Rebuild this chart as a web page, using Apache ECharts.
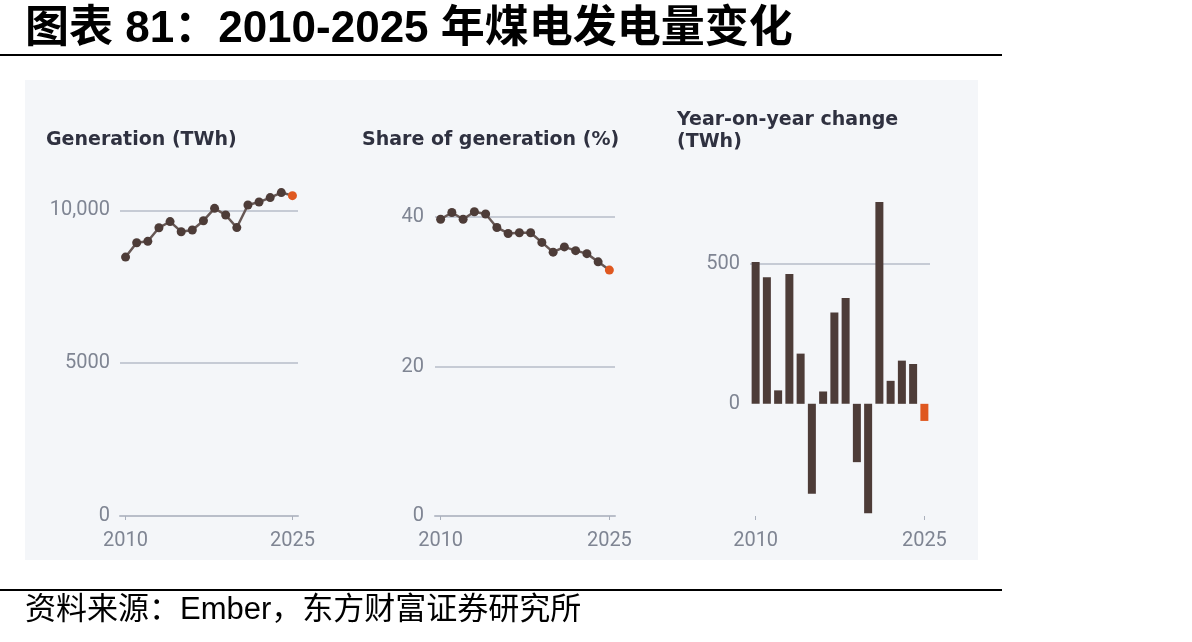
<!DOCTYPE html>
<html>
<head>
<meta charset="utf-8">
<script src="https://cdn.jsdelivr.net/npm/echarts@6/dist/echarts.min.js"></script>
<style>
  html, body { margin: 0; padding: 0; background: #fff; }
  #coalchart { width: 1192px; height: 642px; }
</style>
</head>
<body>
<div id="coalchart"></div>
<script>
  // 数据
  var years = ['2010', '2011', '2012', '2013', '2014', '2015', '2016', '2017',
    '2018', '2019', '2020', '2021', '2022', '2023', '2024', '2025']
  var generation = [8470, 8940, 8985, 9430, 9630, 9300, 9355, 9660,
    10065, 9845, 9435, 10175, 10270, 10415, 10580, 10480]
  var share = [39.7, 40.6, 39.7, 40.7, 40.4, 38.6, 37.8, 37.9,
    37.9, 36.6, 35.3, 36.0, 35.5, 35.1, 34.0, 32.9]
  var yoyChange = [506, 451, 48, 463, 179, -321, 44, 326,
    377, -208, -390, 720, 82, 154, 142, -61]

  var brown = '#4d3c38'
  var orange = '#df5820'
  var labelColor = '#7f8593'
  var gridColor = '#c6cbd5'
  var font = 'Roboto'
  var headFont = '"DejaVu Sans"'
  var lastIdx = years.length - 1

  // 最后一年用橙色标出
  function markLast(arr) {
    return arr.map(function (v, i) {
      return i === lastIdx ? { value: v, itemStyle: { color: orange } } : v
    })
  }
  function firstLast(i) { return i === 0 || i === lastIdx }

  function xAxisFor(gridIndex, showLine) {
    return {
      type: 'category',
      gridIndex: gridIndex,
      data: years,
      boundaryGap: true,
      axisLine: { show: showLine, onZero: false, lineStyle: { color: '#b9bec9', width: 2 } },
      axisTick: { show: true, interval: firstLast, alignWithLabel: true, length: 4,
        lineStyle: { color: '#aab0bc', width: 1 } },
      axisLabel: { interval: firstLast, color: labelColor, fontSize: 20, fontFamily: font, margin: 15 }
    }
  }

  var chart = echarts.init(document.getElementById('coalchart'))
  chart.setOption({
    animation: false,
    backgroundColor: '#ffffff',
    graphic: [
      { type: 'rect', shape: { x: 25, y: 80, width: 953, height: 480 }, style: { fill: '#f4f6f9' }, z: -10 },
      { type: 'line', shape: { x1: 0, y1: 55, x2: 1002, y2: 55 }, style: { stroke: '#000', lineWidth: 2 } },
      { type: 'line', shape: { x1: 0, y1: 590, x2: 1002, y2: 590 }, style: { stroke: '#000', lineWidth: 2 } }
    ],
    title: [
      { text: '图表 81：2010-2025 年煤电发电量变化', left: 25, top: 8, padding: 0,
        textStyle: { fontSize: 44, fontWeight: 'bold', color: '#000',
          fontFamily: '"Liberation Sans", "Noto Sans CJK SC"' } },
      { text: '资料来源：Ember，东方财富证券研究所', left: 25, top: 595, padding: 0,
        textStyle: { fontSize: 31, fontWeight: 'normal', color: '#000',
          fontFamily: '"Liberation Sans", "Noto Sans CJK SC"' } },
      { text: 'Generation (TWh)', left: 46, top: 131, padding: 0,
        textStyle: { fontSize: 19, fontWeight: 'bold', color: '#2f3140', fontFamily: headFont } },
      { text: 'Share of generation (%)', left: 362, top: 131, padding: 0,
        textStyle: { fontSize: 19, fontWeight: 'bold', color: '#2f3140', fontFamily: headFont } },
      { text: 'Year-on-year change\n(TWh)', left: 677, top: 109, padding: 0,
        textStyle: { fontSize: 19, fontWeight: 'bold', color: '#2f3140', fontFamily: headFont, lineHeight: 22 } }
    ],
    grid: [
      { left: 120, top: 210.3, width: 178, height: 305.7 },
      { left: 435, top: 217, width: 180, height: 299 },
      { left: 750, top: 263.6, width: 180, height: 252.4 }
    ],
    xAxis: [xAxisFor(0, true), xAxisFor(1, true), xAxisFor(2, false)],
    yAxis: [
      {
        type: 'value', gridIndex: 0, min: 0, max: 10000, interval: 5000,
        axisLine: { show: false }, axisTick: { show: false },
        axisLabel: { color: labelColor, fontSize: 20, fontFamily: font, margin: 10,
          formatter: function (v) { return v >= 10000 ? v.toLocaleString('en-US') : String(v) } },
        splitLine: { show: true, showMinLine: false, lineStyle: { color: gridColor, width: 2 } }
      },
      {
        type: 'value', gridIndex: 1, min: 0, max: 40, interval: 20,
        axisLine: { show: false }, axisTick: { show: false },
        axisLabel: { color: labelColor, fontSize: 20, fontFamily: font, margin: 11 },
        splitLine: { show: true, showMinLine: false, lineStyle: { color: gridColor, width: 2 } }
      },
      {
        type: 'value', gridIndex: 2, min: -400, max: 500, splitNumber: 2,
        axisLine: { show: false }, axisTick: { show: false },
        axisLabel: { color: labelColor, fontSize: 20, fontFamily: font, margin: 10, showMinLabel: false },
        splitLine: { show: true, showMinLine: false,
          lineStyle: { color: ['rgba(0,0,0,0)', gridColor], width: 2 } }
      }
    ],
    series: [
      {
        type: 'line', xAxisIndex: 0, yAxisIndex: 0, data: markLast(generation),
        clip: false, symbol: 'circle', symbolSize: 9, showAllSymbol: true,
        lineStyle: { color: '#675855', width: 2.5 },
        itemStyle: { color: brown }
      },
      {
        type: 'line', xAxisIndex: 1, yAxisIndex: 1, data: markLast(share),
        clip: false, symbol: 'circle', symbolSize: 9, showAllSymbol: true,
        lineStyle: { color: '#675855', width: 2.5 },
        itemStyle: { color: brown }
      },
      {
        type: 'bar', xAxisIndex: 2, yAxisIndex: 2, data: markLast(yoyChange),
        clip: false, barWidth: 8,
        itemStyle: { color: brown }
      }
    ]
  })
</script>
</body>
</html>
